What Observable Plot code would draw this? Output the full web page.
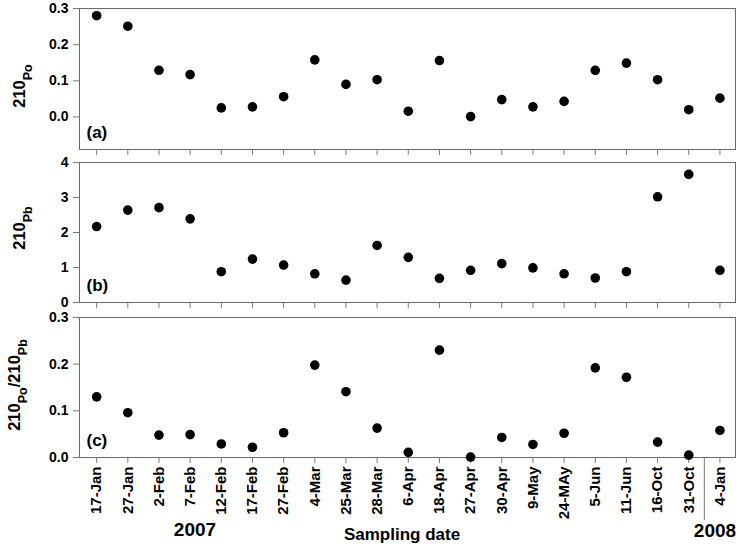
<!DOCTYPE html>
<html>
<head>
<meta charset="utf-8">
<script src="https://cdn.jsdelivr.net/npm/d3@7"></script>
<script src="https://cdn.jsdelivr.net/npm/@observablehq/plot@0.6"></script>
<style>
  html, body { margin: 0; padding: 0; background: white; }
  #chart { position: relative; width: 738px; height: 546px; font-family: "Liberation Sans", Arial, sans-serif; }
  #chart svg { position: absolute; left: 0; }
</style>
</head>
<body>
<div id="chart"></div>
<script>
const dates = ["17-Jan","27-Jan","2-Feb","7-Feb","12-Feb","17-Feb","27-Feb","4-Mar","25-Mar","28-Mar","6-Apr","18-Apr","27-Apr","30-Apr","9-May","24-MAy","5-Jun","11-Jun","16-Oct","31-Oct","4-Jan"];
const years = [2007,2007,2007,2007,2007,2007,2007,2007,2007,2007,2007,2007,2007,2007,2007,2007,2007,2007,2007,2007,2008];
const po210 = [0.280,0.251,0.129,0.117,0.025,0.028,0.056,0.158,0.090,0.103,0.016,0.156,0.001,0.048,0.028,0.043,0.129,0.149,0.103,0.020,0.052];
const pb210 = [2.17,2.64,2.71,2.39,0.88,1.24,1.07,0.82,0.64,1.63,1.29,0.69,0.92,1.11,0.99,0.82,0.70,0.88,3.02,3.66,0.92];
const ratio = [0.130,0.096,0.048,0.049,0.029,0.022,0.053,0.198,0.141,0.063,0.011,0.230,0.001,0.043,0.028,0.052,0.192,0.172,0.033,0.005,0.058];
const poTicks = [0, 0.1, 0.2, 0.3];
const pbTicks = [0, 1, 2, 3, 4];
const ratioTicks = [0, 0.1, 0.2, 0.3];

const idx = dates.map((d, i) => i);
const sepIndex = years.findIndex((y, i) => i > 0 && y !== years[i - 1]) - 0.5;

const FONT = "Liberation Sans, Arial, sans-serif";
const FRAME = "#6a6a6a";
const TICK = "#7a7a7a";

function panel({values, domain, ticks, fmt, letter, top, height, marginTop, marginBottom, bottom}) {
  const data = values.map((v, i) => ({i, v}));
  const marks = [
    Plot.frame({stroke: FRAME, strokeWidth: 1}),
    Plot.axisY(ticks, {tickSize: 6, tickPadding: 5, tickFormat: fmt, fontSize: 14, fontWeight: "bold", stroke: TICK, label: null}),
    bottom
      ? Plot.axisX(idx, {tickSize: 6, tickPadding: 3, tickRotate: -90, tickFormat: i => dates[i], fontSize: 15, fontWeight: "bold", stroke: TICK, label: null})
      : Plot.axisX(idx, {tickSize: 6, tickFormat: () => "", stroke: TICK, label: null}),
    Plot.dot(data, {x: "i", y: "v", r: 4.8, fill: "black", stroke: "none"}),
    Plot.text([letter], {frameAnchor: "bottom-left", dx: 7, dy: -12, lineAnchor: "bottom", textAnchor: "start", fontSize: 17, fontWeight: "bold", fill: "black"})
  ];
  if (bottom) {
    marks.push(Plot.axisX([sepIndex], {tickSize: 63, tickFormat: () => "", stroke: TICK, label: null}));
  }
  const svg = Plot.plot({
    width: 738,
    height,
    marginLeft: 79,
    marginRight: 3,
    marginTop,
    marginBottom,
    style: {fontFamily: FONT, background: "transparent", overflow: "visible", color: "black"},
    x: {type: "linear", domain: [-0.55, 20.5]},
    y: {domain},
    marks
  });
  svg.style.top = top + "px";
  return svg;
}

const chart = document.getElementById("chart");
const p1 = panel({values: po210, domain: [-0.09, 0.3], ticks: poTicks, fmt: d3.format(".1f"), letter: "(a)", top: 0, height: 156, marginTop: 8, marginBottom: 7});
const p2 = panel({values: pb210, domain: [0, 4], ticks: pbTicks, fmt: d3.format("d"), letter: "(b)", top: 155, height: 154, marginTop: 7, marginBottom: 7});
const p3 = panel({values: ratio, domain: [0, 0.3], ticks: ratioTicks, fmt: d3.format(".1f"), letter: "(c)", top: 309, height: 237, marginTop: 8, marginBottom: 89, bottom: true});
chart.append(p1, p2, p3);

// y-axis titles with subscripts
function yTitle(svg, x, y, parts) {
  const t = d3.select(svg).append("text")
    .attr("transform", `translate(${x},${y}) rotate(-90)`)
    .attr("text-anchor", "middle")
    .attr("font-family", FONT)
    .attr("font-weight", "bold")
    .attr("font-size", 16.5)
    .attr("fill", "black");
  let shifted = false;
  parts.forEach(([txt, sub]) => {
    const s = t.append("tspan").text(txt);
    if (sub && !shifted) { s.attr("dy", 7).attr("font-size", 12.5); shifted = true; }
    else if (sub) { s.attr("font-size", 12.5); }
    else if (!sub && shifted) { s.attr("dy", -7); shifted = false; }
  });
}
yTitle(p1, 25, 86, [["210", false], ["Po", true]]);
yTitle(p2, 25, 228 - 155, [["210", false], ["Pb", true]]);
yTitle(p3, 20, 385 - 309, [["210", false], ["Po", true], ["/210", false], ["Pb", true]]);

// year labels and x title
const g3 = d3.select(p3);
[[String(years[0]), 195, 227, 19], [String(years[years.length - 1]), 715, 228, 19], ["Sampling date", 402, 231, 17]].forEach(([txt, x, y, fs]) => {
  g3.append("text").attr("x", x).attr("y", y).attr("text-anchor", "middle")
    .attr("font-family", FONT).attr("font-weight", "bold").attr("font-size", fs).attr("fill", "black").text(txt);
});
</script>
</body>
</html>
